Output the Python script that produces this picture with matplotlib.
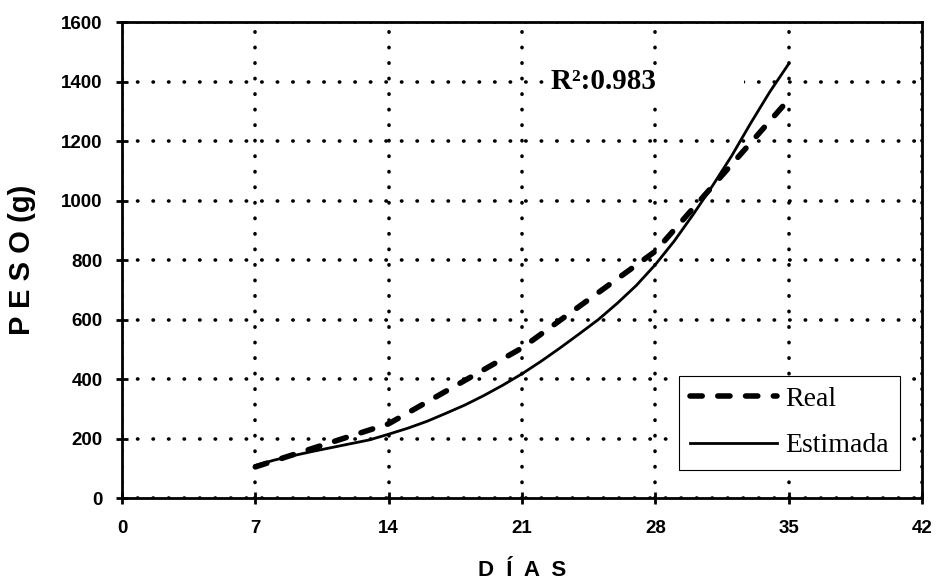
import numpy as np
import matplotlib.pyplot as plt

# datos
dias_real = [7, 14, 21, 28, 35]
peso_real = [105, 250, 505, 830, 1340]

dias_est = [7, 8, 9, 10, 11, 12, 13, 14, 15, 16, 17, 18, 19, 20, 21,
            22, 23, 24, 25, 26, 27, 28, 29, 30, 31, 32, 33, 34, 35]
peso_est = [110, 128, 143, 157, 170, 183, 196, 215, 235, 258, 285, 313, 345, 380, 418,
            460, 505, 552, 600, 655, 715, 785, 865, 955, 1050, 1150, 1260, 1365, 1460]

x_ticks = [0, 7, 14, 21, 28, 35, 42]
y_ticks = [0, 200, 400, 600, 800, 1000, 1200, 1400, 1600]

fig = plt.figure(figsize=(9.38, 5.84), dpi=100)
ax = fig.add_axes([0.130, 0.147, 0.853, 0.815])

ax.plot(dias_real, peso_real, color='black', lw=4, ls=(0, (2.2, 2.8)),
        dash_capstyle='round', label='Real', zorder=3)
ax.plot(dias_est, peso_est, color='black', lw=2, label='Estimada', zorder=3)

ax.set_xlim(0, 42)
ax.set_ylim(0, 1600)
ax.set_xticks(x_ticks)
ax.set_yticks(y_ticks)
ax.grid(True, color='black', lw=2.6, ls=(0, (0.1, 4.2)), dash_capstyle='round')
ax.set_axisbelow(True)

for s in ax.spines.values():
    s.set_linewidth(2)
ax.tick_params(direction='inout', length=8, width=2, labelsize=13.5)
ax.tick_params(axis='y', pad=10)
ax.tick_params(axis='x', pad=12)
for lab in ax.get_xticklabels() + ax.get_yticklabels():
    lab.set_fontweight('bold')
    lab.set_family('Liberation Sans')

ax.set_xlabel('D  Í  A  S', fontsize=16, fontweight='bold', family='Liberation Sans', labelpad=16)
ax.set_ylabel('P E S O (g)', fontsize=21, fontweight='bold', family='Liberation Sans', labelpad=18)

ax.text(22.5, 1400, 'R²:0.983' + ' ' * 12, fontsize=21, fontweight='bold', family='Liberation Serif',
        va='center', ha='left', zorder=1.5,
        bbox=dict(facecolor='white', edgecolor='none', pad=1))

leg = ax.legend(loc='lower right', bbox_to_anchor=(0.972, 0.06), fancybox=False,
                framealpha=1, edgecolor='black', handlelength=3.1,
                prop={'family': 'Liberation Serif', 'size': 20}, borderaxespad=0,
                handletextpad=0.3, labelspacing=0.75, borderpad=0.4)
leg.get_frame().set_linewidth(0.8)

fig.savefig('out.png', dpi=100)
